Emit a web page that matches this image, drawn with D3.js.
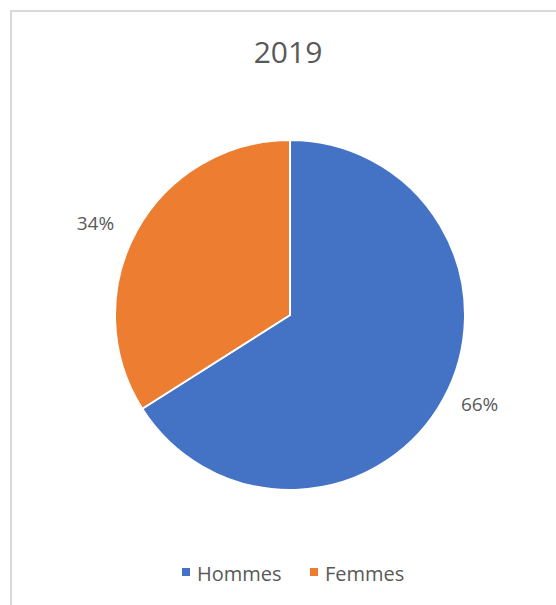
<!DOCTYPE html>
<html>
<head>
<meta charset="utf-8">
<script src="https://cdn.jsdelivr.net/npm/d3@7"></script>
<style>
  body { margin: 0; background: #fff; }
  text { font-family: "Open Sans", "Liberation Sans", sans-serif; fill: #595959; }
</style>
</head>
<body>
<div id="container"></div>
<script>
// data
var categories = ["Hommes", "Femmes"];
var values = [66, 34];
var colors = ["#4472c4", "#ed7d31"];
var title = "2019";

var width = 556, height = 605;
var cx = 290, cy = 315, radius = 175;

var svg = d3.select("#container")
  .append("svg")
    .attr("width", width)
    .attr("height", height);

// chart border
svg.append("rect")
  .attr("x", 11).attr("y", 11)
  .attr("width", width).attr("height", height)
  .attr("fill", "none")
  .attr("stroke", "#d9d9d9")
  .attr("stroke-width", 2);

svg.append("text")
  .attr("x", 288).attr("y", 63)
  .attr("text-anchor", "middle")
  .style("font-size", "30px")
  .text(title);

var data = categories.map(function (c, i) { return {name: c, value: values[i], color: colors[i]}; });
var total = d3.sum(values);

var pie = d3.pie().sort(null).value(function (d) { return d.value; });
var arc = d3.arc().innerRadius(0).outerRadius(radius);
var labelArc = d3.arc().innerRadius(195).outerRadius(195);

var g = svg.append("g").attr("transform", "translate(" + cx + "," + cy + ")");

var arcs = pie(data);

g.selectAll("path")
  .data(arcs)
  .enter()
  .append("path")
    .attr("d", arc)
    .attr("fill", function (d) { return d.data.color; })
    .attr("stroke", "#fff")
    .attr("stroke-width", 2)
    .attr("stroke-linejoin", "round");

g.selectAll("text.lbl")
  .data(arcs)
  .enter()
  .append("text")
    .attr("class", "lbl")
    .attr("transform", function (d) {
      var c = labelArc.centroid(d);
      var left = (d.startAngle + d.endAngle) / 2 > Math.PI;
      return "translate(" + (c[0] + (left ? -5 : 0)) + "," + (c[1] + (left ? 2 : -5)) + ")";
    })
    .attr("text-anchor", function (d) { return (d.startAngle + d.endAngle) / 2 < Math.PI ? "start" : "end"; })
    .attr("dominant-baseline", "central")
    .style("font-size", "19px")
    .text(function (d) { return Math.round(d.data.value / total * 100) + "%"; });

// legend
var legend = svg.append("g").attr("transform", "translate(0,572)");
var lx = [182, 310];
var items = legend.selectAll("g")
  .data(data)
  .enter()
  .append("g")
    .attr("transform", function (d, i) { return "translate(" + lx[i] + ",0)"; });

items.append("rect")
  .attr("x", 0).attr("y", -4)
  .attr("width", 8).attr("height", 8)
  .attr("fill", function (d) { return d.color; });

items.append("text")
  .attr("x", 15).attr("y", 1)
  .attr("dominant-baseline", "central")
  .style("font-size", "20px")
  .text(function (d) { return d.name; });
</script>
</body>
</html>
